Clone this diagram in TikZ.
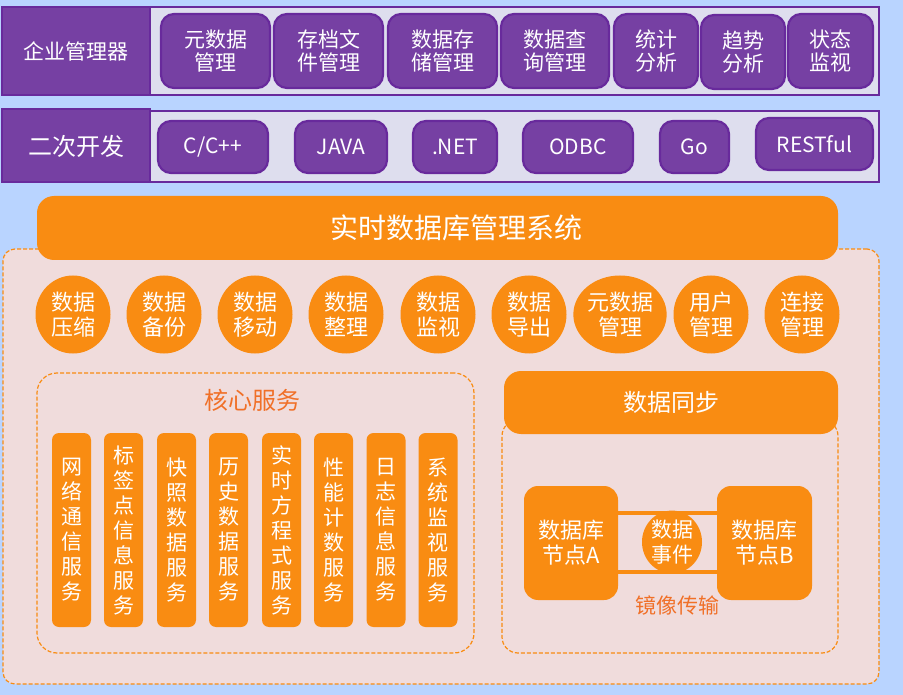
\documentclass[tikz,border=0pt]{standalone}
\usepackage{fontspec}
\setmainfont{Noto Sans CJK SC}
\usepackage{tikz}
\usetikzlibrary{positioning, shapes.geometric}
\definecolor{skyblue}{RGB}{185,212,255}
\definecolor{mgrpurple}{RGB}{118,64,163}
\definecolor{mgrline}{RGB}{104,42,156}
\definecolor{bandgray}{RGB}{222,222,238}
\definecolor{rtorange}{RGB}{249,140,18}
\definecolor{rtpink}{RGB}{240,220,220}
\definecolor{rttext}{RGB}{240,112,40}
\newcommand{\fs}[2]{\fontsize{#1}{#2}\selectfont}

\begin{document}
\begin{tikzpicture}[x=1pt, y=-1pt,
        band/.style={rectangle, draw=mgrline, line width=1.5pt, fill=bandgray, inner sep=0pt},
        rowlbl/.style={rectangle, draw=mgrline, line width=2pt, fill=mgrpurple, text=white, inner sep=0pt, font=\fs{21}{24}},
        btn/.style={rectangle, rounded corners=13pt, draw=mgrline, line width=2.2pt, fill=mgrpurple, text=white, align=center, inner sep=0pt, font=\fs{21}{23}},
        headbar/.style={rectangle, rounded corners=17pt, fill=rtorange, text=white, inner sep=0pt},
        region/.style={rectangle, draw=rtorange, dashed, dash pattern=on 4pt off 2pt, line width=1.2pt, inner sep=0pt},
        func/.style={ellipse, fill=rtorange, text=white, align=center, inner sep=0pt, minimum width=75pt, minimum height=78pt, font=\fs{22}{25}},
        pillar/.style={rectangle, rounded corners=7pt, fill=rtorange, text=white, align=center, inner sep=0pt, minimum width=39pt, minimum height=194pt, font=\fs{21}{25}},
        dbnode/.style={rectangle, rounded corners=14pt, fill=rtorange, text=white, align=center, inner sep=0pt, minimum height=114pt, font=\fs{22}{25}},
        link/.style={draw=rtorange, line width=3.5pt}]
        \useasboundingbox[fill=skyblue] (0,0) rectangle (903,695);
        % management row
        \node[band, minimum width=729pt, minimum height=88pt] (entband) at (514.5,51) {};
        \node[rowlbl, minimum width=148pt, minimum height=88pt] (entlbl) at (76,51) {企业管理器};
        \node[btn, minimum width=109pt, minimum height=74pt] (meta) at (215.5,51) {元数据\\管理};
        \node[btn, minimum width=109pt, minimum height=74pt] (archive) at (328.5,51) {存档文\\件管理};
        \node[btn, minimum width=109pt, minimum height=74pt] (storage) at (442.5,51) {数据存\\储管理};
        \node[btn, minimum width=108pt, minimum height=74pt] (query) at (555,51) {数据查\\询管理};
        \node[btn, minimum width=84pt, minimum height=74pt] (stats) at (656,51) {统计\\分析};
        \node[btn, minimum width=84pt, minimum height=74pt] (trend) at (743,52) {趋势\\分析};
        \node[btn, minimum width=85pt, minimum height=74pt] (status) at (830.5,51) {状态\\监视};
        % development row
        \node[band, minimum width=729pt, minimum height=71pt] (devband) at (514.5,146.5) {};
        \node[rowlbl, minimum width=148pt, minimum height=73pt, font=\fs{24}{26}] (devlbl) at (76,146) {二次开发};
        \node[btn, minimum width=110pt, minimum height=52pt] (ccpp) at (213,147) {C/C++};
        \node[btn, minimum width=92pt, minimum height=52pt] (java) at (341,147) {JAVA};
        \node[btn, minimum width=84pt, minimum height=52pt] (dotnet) at (455,147) {.NET};
        \node[btn, minimum width=110pt, minimum height=52pt] (odbc) at (578,147) {ODBC};
        \node[btn, minimum width=69pt, minimum height=52pt] (golang) at (694.5,147) {Go};
        \node[btn, minimum width=117pt, minimum height=52pt] (rest) at (814.5,144) {RESTful};
        % real-time database
        \node[region, fill=rtpink, rounded corners=12pt, minimum width=876pt, minimum height=435pt] (rtregion) at (441,466.5) {};
        \node[headbar, minimum width=801pt, minimum height=64pt, font=\fs{28}{30}] (rtdb) at (437.5,228) {\kern38pt 实时数据库管理系统};
        \node[func] (compress) at (73,314.5) {数据\\压缩};
        \node[func] (backup) at (164,314.5) {数据\\备份};
        \node[func] (move) at (255,314.5) {数据\\移动};
        \node[func] (tidy) at (346,314.5) {数据\\整理};
        \node[func] (monitor) at (438,314.5) {数据\\监视};
        \node[func] (export) at (529,314.5) {数据\\导出};
        \node[func] (metafn) at (620,314.5) {元数据\\管理};
        \node[func] (user) at (711,314.5) {用户\\管理};
        \node[func] (conn) at (802,314.5) {连接\\管理};
        % core services
        \node[region, rounded corners=20pt, minimum width=437pt, minimum height=280pt] (core) at (255.5,513) {};
        \node[text=rttext, font=\fs{24}{26}] (coretitle) at (252,400) {核心服务};
        \node[pillar] (netsvc) at (71.5,530) {网\\络\\通\\信\\服\\务};
        \node[pillar] (tagsvc) at (123.5,530) {标\\签\\点\\信\\息\\服\\务};
        \node[pillar] (snapsvc) at (176.5,530) {快\\照\\数\\据\\服\\务};
        \node[pillar] (histsvc) at (228.5,530) {历\\史\\数\\据\\服\\务};
        \node[pillar] (eqsvc) at (281.5,530) {实\\时\\方\\程\\式\\服\\务};
        \node[pillar] (perfsvc) at (333.5,530) {性\\能\\计\\数\\服\\务};
        \node[pillar] (logsvc) at (386,530) {日\\志\\信\\息\\服\\务};
        \node[pillar] (syssvc) at (438,530) {系\\统\\监\\视\\服\\务};
        % data sync
        \node[region, rounded corners=16pt, minimum width=336pt, minimum height=233pt] (syncbox) at (670,536.5) {};
        \node[headbar, minimum width=334pt, minimum height=63pt, font=\fs{24}{27}] (sync) at (671,402.5) {数据同步};
        \node[dbnode, minimum width=94pt] (nodeA) at (571,543) {数据库\\节点A};
        \node[dbnode, minimum width=95pt] (nodeB) at (764.5,543) {数据库\\节点B};
        \draw[link] ([yshift=30pt]nodeA.east) -- ([yshift=30pt]nodeB.west);
        \draw[link] ([yshift=-29pt]nodeA.east) -- ([yshift=-29pt]nodeB.west);
        \node[func, minimum width=60pt, minimum height=58pt, font=\fs{21}{25}] (event) at (672,542) {数据\\事件};
        \node[text=rttext, font=\fs{21}{24}] (mirror) at (677,605) {镜像传输};
      \end{tikzpicture}
\end{document}
